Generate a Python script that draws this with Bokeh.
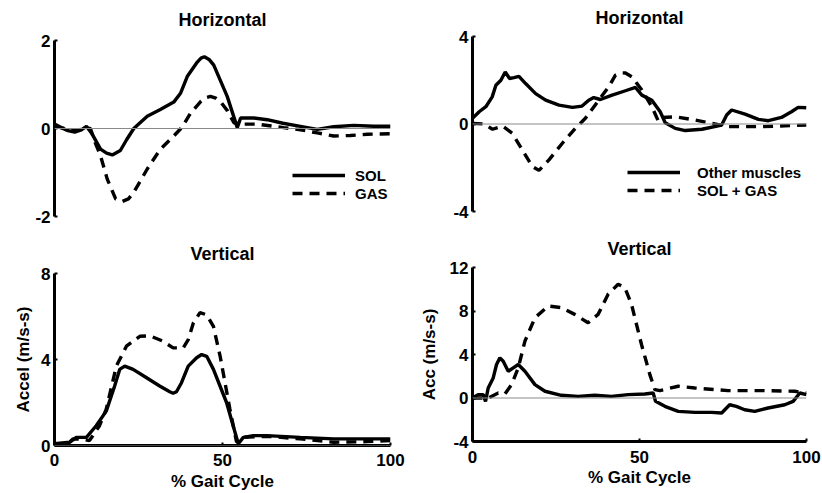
from bokeh.plotting import figure
from bokeh.layouts import column, row
from bokeh.models import Range1d, Span, Legend, LegendItem, FixedTicker
from bokeh.embed import file_html
from bokeh.resources import INLINE

# ---------------- data ----------------
sol_h_x = [0, 2, 4, 6, 8, 9.5, 11, 13.7, 15.5, 17.2, 19.6, 21.5, 23.6, 27.6, 31.5, 35.5, 37.5, 39.5,
           42.5, 43.6, 44.6, 46, 47.4, 51.4, 54.4, 55.4, 59.3, 63.3, 68, 73.2, 78.2, 83.1, 89.1, 95, 100]
sol_h_y = [0.1, 0.02, -0.05, -0.08, -0.03, 0.05, -0.1, -0.47, -0.56, -0.6, -0.5, -0.25, 0, 0.28, 0.43, 0.6, 0.8, 1.18,
           1.51, 1.6, 1.63, 1.57, 1.44, 0.73, 0.02, 0.24, 0.24, 0.2, 0.12, 0.05, -0.02, 0.04, 0.07, 0.05, 0.05]

gas_h_x = [0, 3, 6, 9, 10.7, 12, 13.7, 15.7, 18.2, 20.1, 22, 23.6, 27.6, 31.5, 35.5, 38, 40.5, 43.5,
           45, 46.4, 48, 49.4, 51.5, 53.4, 55.4, 60.3, 68.2, 73.2, 78.2, 83.1, 88, 93.1, 100]
gas_h_y = [0.05, 0, -0.05, 0, 0, -0.3, -0.62, -1.15, -1.6, -1.66, -1.6, -1.45, -0.92, -0.47, -0.17, 0.03, 0.35, 0.61,
           0.7, 0.73, 0.69, 0.61, 0.4, 0.13, 0.1, 0.1, 0.02, -0.03, -0.1, -0.17, -0.16, -0.13, -0.12]

oth_h_x = [0, 2, 4, 5.9, 7, 8.5, 9.8, 11.1, 12.4, 13.9, 15.9, 18.9, 21.9, 25.9, 29.9, 32.8, 34.8, 36.3, 38.3,
           41.8, 45.8, 48.8, 50.7, 53.7, 56.2, 57.7, 60.7, 63.7, 68.7, 74.6, 76.1, 77.6, 81.6, 85.6, 88.6,
           92.5, 95.5, 97.5, 100]
oth_h_y = [0.26, 0.56, 0.79, 1.24, 1.77, 2.0, 2.38, 2.08, 2.12, 2.18, 1.85, 1.39, 1.09, 0.86, 0.76, 0.82, 1.09, 1.21, 1.12,
           1.32, 1.52, 1.67, 1.32, 1.09, 0.56, 0.06, -0.2, -0.3, -0.24, -0.05, 0.41, 0.64, 0.45, 0.21, 0.15,
           0.3, 0.56, 0.76, 0.74]

sg_h_x = [0, 3.5, 6, 9, 11.9, 14.9, 17.9, 19.9, 22.9, 26.9, 30.8, 33.8, 37.8, 40.8, 42.8, 44.3, 45.8, 47.8,
          50.7, 53.7, 55.7, 56.7, 60.7, 66.7, 71.6, 76.6, 86.6, 100]
sg_h_y = [0.03, 0, -0.24, -0.09, -0.42, -1.18, -1.94, -2.12, -1.64, -0.88, -0.2, 0.26, 1.09, 1.7, 2.23, 2.34, 2.33, 2.15,
          1.55, 0.79, 0.11, 0.3, 0.33, 0.18, 0.03, -0.12, -0.12, -0.05]

sol_v_x = [0, 4.5, 6.5, 9.5, 12.4, 15.4, 17.9, 19.4, 20.9, 23.4, 27.4, 31.3, 34.3, 35.3, 36.3, 37.8, 39.8, 42.3,
           43.8, 45.3, 47.3, 51.2, 54.7, 56.2, 59.2, 63.2, 73.1, 83.1, 93, 100]
sol_v_y = [0.08, 0.15, 0.38, 0.38, 0.92, 1.6, 2.77, 3.54, 3.69, 3.54, 3.15, 2.77, 2.5, 2.43, 2.5, 2.92, 3.69, 4.08,
           4.23, 4.15, 3.54, 2.0, 0.08, 0.38, 0.46, 0.46, 0.38, 0.31, 0.31, 0.31]

gas_v_x = [0, 3.5, 5.5, 8, 10.4, 13.4, 15.4, 18.4, 21.4, 25.4, 28.4, 32.3, 35.3, 38.3, 39.8, 41.3, 43.3,
           45.3, 47.3, 49.3, 52.2, 54.2, 56.2, 63.2, 73.1, 83.1, 93, 100]
gas_v_y = [0, 0, 0.31, 0.3, 0.23, 0.92, 1.69, 3.69, 4.62, 5.08, 5.1, 4.85, 4.54, 4.54, 4.92, 5.69, 6.18,
           6.08, 5.54, 4.15, 1.69, 0.15, 0.38, 0.43, 0.31, 0.15, 0.18, 0.23]

oth_v_x = [0, 1.7, 3.2, 3.9, 4.7, 6.2, 7.2, 8.2, 9.2, 10.7, 12.2, 13.7, 15.7, 18.7, 21.7, 26.6, 31.6, 36.6,
           41.6, 46.6, 51.6, 54.1, 54.8, 57.6, 61.6, 66.6, 71.6, 74.6, 77, 79, 81.5, 84.5, 88.5, 93.5, 96, 98, 100]
oth_v_y = [0, 0.31, 0.31, -0.31, 0.92, 1.85, 3.08, 3.69, 3.38, 2.46, 2.77, 3.08, 2.46, 1.23, 0.62, 0.25, 0.15, 0.25,
           0.15, 0.31, 0.37, 0.46, -0.31, -0.77, -1.23, -1.32, -1.32, -1.38, -0.62, -0.77, -1.08, -1.23, -0.92,
           -0.62, -0.31, 0.46, 0.31]

sg_v_x = [0, 4.7, 7.7, 9.7, 11.7, 13.7, 15.7, 18.7, 22.7, 26.6, 30.6, 34.6, 37.6, 40.6, 43.6, 45.6, 47.6,
          50.6, 53.1, 54.6, 56.1, 61.6, 66.6, 76.5, 86.5, 96.5, 100]
sg_v_y = [0, 0, 0.46, 0.37, 1.23, 2.77, 5.23, 7.38, 8.46, 8.31, 7.69, 6.92, 7.69, 9.54, 10.46, 10.15, 8.62,
          4.92, 2.15, 0.77, 0.68, 1.08, 0.92, 0.68, 0.68, 0.62, 0.46]

x_ticks = [0, 50, 100]
y_ticks_tl = [-2, 0, 2]
y_ticks_tr = [-4, 0, 4]
y_ticks_bl = [0, 4, 8]
y_ticks_br = [-4, 0, 4, 8, 12]

titles = ["Horizontal", "Horizontal", "Vertical", "Vertical"]
legend_left = ["SOL", "GAS"]
legend_right = ["Other muscles", "SOL + GAS"]
x_title = "% Gait Cycle"
y_title_bl = "Accel (m/s-s)"
y_title_br = "Acc (m/s-s)"

FONT = "Liberation Sans"
DASH = "10 7"
LW = 3.4


def make_fig(title, w, h, yr, yticks, borders, title_standoff):
    left, right, top, bottom = borders
    p = figure(width=w, height=h, x_range=Range1d(0, 100), y_range=Range1d(*yr),
               output_backend="svg", toolbar_location=None, title=title,
               min_border_left=left, min_border_right=right,
               min_border_top=top, min_border_bottom=bottom)
    p.outline_line_color = None
    p.grid.visible = False
    p.title.align = "center"
    p.title.vertical_align = "top"
    p.title.text_font = FONT
    p.title.text_font_size = "18px"
    p.title.text_font_style = "bold"
    p.title.text_color = "black"
    p.title.standoff = title_standoff
    for ax in (p.xaxis[0], p.yaxis[0]):
        ax.axis_line_width = 3
        ax.axis_line_color = "black"
        ax.major_tick_in = 3
        ax.major_tick_out = 0
        ax.major_tick_line_width = 2
        ax.minor_tick_line_color = None
        ax.major_label_text_font = FONT
        ax.major_label_text_font_size = "17px"
        ax.major_label_text_font_style = "bold"
        ax.major_label_text_color = "black"
        ax.axis_label_text_font = FONT
        ax.axis_label_text_font_size = "17px"
        ax.axis_label_text_font_style = "bold"
        ax.axis_label_text_color = "black"
    p.yaxis.ticker = FixedTicker(ticks=yticks)
    p.yaxis.major_label_overrides = {t: str(t) for t in yticks}
    p.xaxis.ticker = FixedTicker(ticks=x_ticks)
    p.yaxis.major_label_standoff = 4
    p.add_layout(Span(location=0, dimension="width", line_color="#8a8a8a", line_width=1))
    return p


def add_legend(p, r1, r2, labels, loc, standoff):
    lg = Legend(items=[LegendItem(label=labels[0], renderers=[r1]),
                       LegendItem(label=labels[1], renderers=[r2])],
                location=loc, orientation="vertical")
    lg.border_line_color = None
    lg.background_fill_alpha = 0
    lg.padding = 0
    lg.margin = 0
    lg.spacing = 0
    lg.glyph_width = 53
    lg.glyph_height = 18
    lg.label_height = 18
    lg.label_standoff = standoff
    lg.label_text_font = FONT
    lg.label_text_font_size = "15px"
    lg.label_text_font_style = "bold"
    lg.label_text_color = "black"
    p.add_layout(lg)


# top-left
p1 = make_fig(titles[0], 411, 232, (-2, 2), y_ticks_tl, (54, 21, 40, 16), 18)
p1.xaxis.visible = False
a = p1.line(sol_h_x, sol_h_y, line_color="black", line_width=LW)
b = p1.line(gas_h_x, gas_h_y, line_color="black", line_width=LW, line_dash=DASH)
add_legend(p1, a, b, legend_left, (238, 14), 10)

# top-right
p2 = make_fig(titles[1], 411, 232, (-4, 4), y_ticks_tr, (60, 16, 36, 21), 14)
p2.xaxis.visible = False
a = p2.line(oth_h_x, oth_h_y, line_color="black", line_width=LW)
b = p2.line(sg_h_x, sg_h_y, line_color="black", line_width=LW, line_dash=DASH)
add_legend(p2, a, b, legend_right, (155, 12), 17)

# bottom-left
p3 = make_fig(titles[2], 411, 261, (0, 8), y_ticks_bl, (54, 21, 41, 44), 16)
p3.yaxis.axis_label = y_title_bl
p3.xaxis.axis_label = x_title
p3.xaxis.major_label_standoff = 8
p3.xaxis.axis_label_standoff = 3
p3.line(sol_v_x, sol_v_y, line_color="black", line_width=LW)
p3.line(gas_v_x, gas_v_y, line_color="black", line_width=LW, line_dash=DASH)

# bottom-right
p4 = make_fig(titles[3], 411, 261, (-4, 12), y_ticks_br, (61, 16, 35, 52), 13)
p4.yaxis.axis_label = y_title_br
p4.yaxis.axis_label_standoff = 8
p4.xaxis.axis_label = x_title
p4.xaxis.major_label_standoff = 9
p4.xaxis.axis_label_standoff = 2
p4.line(oth_v_x, oth_v_y, line_color="black", line_width=LW)
p4.line(sg_v_x, sg_v_y, line_color="black", line_width=LW, line_dash=DASH)

layout = row(column(p1, p3), column(p2, p4))
open("out.html", "w").write(file_html(layout, INLINE))
